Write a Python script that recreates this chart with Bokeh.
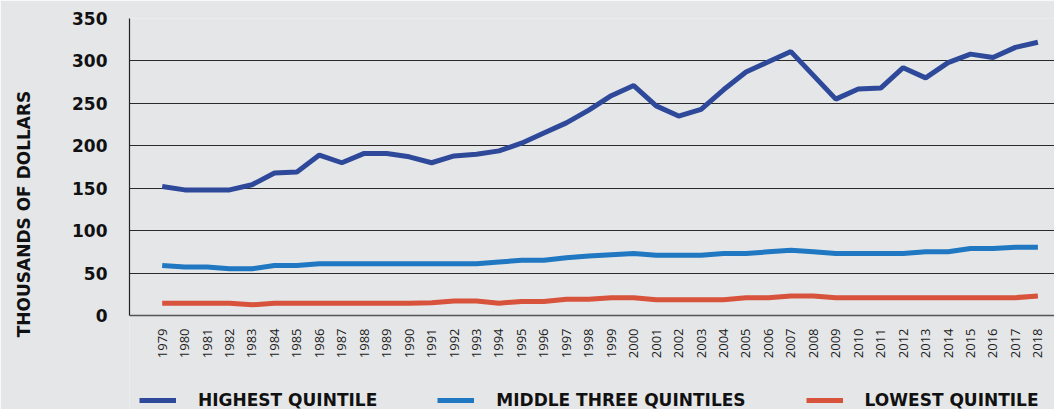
import math
from bokeh.plotting import figure
from bokeh.models import Range1d, FixedTicker, Legend, LegendItem
from bokeh.embed import file_html
from bokeh.resources import INLINE

years = list(range(1979, 2019))
highest = [152, 148, 148, 148, 154, 168, 169, 189, 180, 191, 191, 187, 180, 188, 190, 194,
           203, 215, 227, 242, 259, 271, 247, 235, 243, 266, 287, 299, 311, 283, 255, 267,
           268, 292, 280, 298, 308, 304, 316, 322]
middle = [59, 57, 57, 55, 55, 59, 59, 61, 61, 61, 61, 61, 61, 61, 61, 63,
          65, 65, 68, 70, 71.5, 73, 71, 71, 71, 73, 73, 75, 77, 75, 73, 73,
          73, 73, 75, 75, 79, 79, 80.5, 80.5]
lowest = [14.5, 14.5, 14.5, 14.5, 12.6, 14.5, 14.5, 14.5, 14.5, 14.5, 14.5, 14.5, 15, 17, 17, 14.5,
          16.5, 16.5, 19, 19, 21, 21, 18.5, 18.5, 18.5, 18.5, 21, 21, 23, 23, 21, 21,
          21, 21, 21, 21, 21, 21, 21, 23]
y_ticks = [0, 50, 100, 150, 200, 250, 300, 350]
series_names = ["HIGHEST QUINTILE", "MIDDLE THREE QUINTILES", "LOWEST QUINTILE"]
colors = ["#2E4999", "#1F78C1", "#D8533C"]

BG = "#E5E6E8"
FONT = "DejaVu Sans"

# frame spans the whole lower area; x axis is pinned at y=0 so the legend fits below it
p = figure(width=1054, height=409, output_backend="svg", toolbar_location=None,
           x_range=Range1d(1977.544, 2018.74), y_range=Range1d(-110.8, 350),
           min_border_left=129, min_border_right=0, min_border_top=18, min_border_bottom=0,
           background_fill_color=BG, border_fill_color=BG, outline_line_color=None)

renderers = []
for vals, col in zip([highest, middle, lowest], colors):
    r = p.line(years, vals, line_width=5, color=col)
    renderers.append(r)

# x axis
p.xaxis.fixed_location = 0
p.xaxis.ticker = FixedTicker(ticks=years)
p.xaxis.major_label_orientation = math.pi / 2
p.xaxis.major_label_text_font = "Open Sans"
p.xaxis.major_label_text_font_size = "13px"
p.xaxis.major_label_text_color = "#1a1a1a"
p.xaxis.major_label_standoff = 13
p.xaxis.major_tick_out = 0
p.xaxis.major_tick_in = 0
p.xaxis.major_tick_line_color = None
p.xaxis.minor_tick_line_color = None
p.xaxis.axis_line_color = "#555555"
p.xaxis.axis_line_width = 1.5

# y axis
p.yaxis.bounds = (0, 350)
p.yaxis.ticker = FixedTicker(ticks=y_ticks)
p.yaxis.major_label_text_font = FONT
p.yaxis.major_label_text_font_style = "bold"
p.yaxis.major_label_text_font_size = "17px"
p.yaxis.major_label_text_color = "#111111"
p.yaxis.major_label_standoff = 22
p.yaxis.major_tick_out = 0
p.yaxis.major_tick_in = 0
p.yaxis.major_tick_line_color = None
p.yaxis.minor_tick_line_color = None
p.yaxis.axis_line_color = "#222222"
p.yaxis.axis_line_width = 1.2
p.yaxis.axis_label = "THOUSANDS OF DOLLARS"
p.yaxis.axis_label_text_font = FONT
p.yaxis.axis_label_text_font_style = "bold"
p.yaxis.axis_label_text_font_size = "17px"
p.yaxis.axis_label_text_color = "#111111"
p.yaxis.axis_label_standoff = 35

p.xgrid.grid_line_color = None
p.ygrid.grid_line_color = "#2a2a2a"
p.ygrid.grid_line_width = 1.2

legend = Legend(items=[LegendItem(label=n, renderers=[r]) for n, r in zip(series_names, renderers)],
                orientation="horizontal", location=(10, -1),
                glyph_width=37, glyph_height=14, label_standoff=22, spacing=60,
                padding=0, margin=0,
                label_text_font=FONT, label_text_font_style="bold", label_text_font_size="17px",
                label_text_color="#111111",
                background_fill_alpha=0, border_line_color=None)
p.add_layout(legend, "center")

open("out.html", "w").write(file_html(p, INLINE))
